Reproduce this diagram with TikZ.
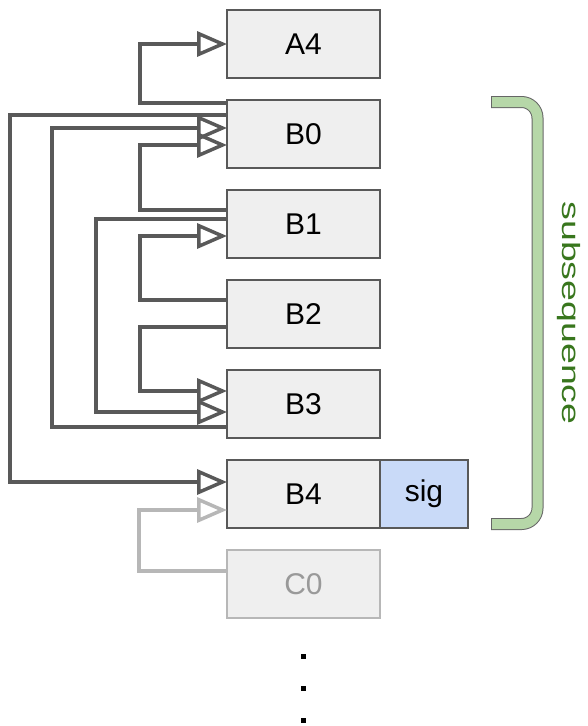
\documentclass[tikz,border=0pt]{standalone}
\usepackage{fontspec}
\setmainfont{Liberation Sans}
\usetikzlibrary{positioning,arrows.meta}
\definecolor{boxfill}{HTML}{EFEFEF}
\definecolor{boxline}{HTML}{595959}
\definecolor{sigfill}{HTML}{C9DAF8}
\definecolor{brfill}{HTML}{B6D7A8}
\definecolor{brline}{HTML}{666666}
\definecolor{brtext}{HTML}{38761D}
\definecolor{faded}{HTML}{B7B7B7}
\definecolor{fadedtext}{HTML}{999999}
\begin{document}
\begin{tikzpicture}[x=1pt,y=-1pt,
  node distance=22pt,
  block/.style={draw=boxline, fill=boxfill, line width=1.5pt, minimum width=153pt,
    minimum height=68pt, inner sep=0pt, outer sep=0pt, font=\fontsize{30}{36}\selectfont},
  link/.style={draw=boxline, line width=3.5pt, -{Triangle[open,length=30pt,width=25pt]}},
  dotmark/.style={fill=black, minimum size=5pt, inner sep=0pt}]
  \useasboundingbox (0,0) rectangle (588,726);
  % bloques
  \node[block] (A4) at (303.5,44) {A4};
  \node[block, below=of A4] (B0) {B0};
  \node[block, below=of B0] (B1) {B1};
  \node[block, below=of B1] (B2) {B2};
  \node[block, below=of B2] (B3) {B3};
  \node[block, below=of B3] (B4) {B4};
  \node[block, right=0pt of B4, minimum width=88pt, fill=sigfill] (sig) {sig};
  \node[block, below=of B4, draw=faded, text=fadedtext] (C0) {C0};
  % enlaces
  \draw[link] ([yshift=-3pt]B0.north west) -- ++(-87,0) |- (A4.west);
  \draw[link] ([yshift=-15pt]B0.north west) -- ++(-217,0) |- ([yshift=-22pt]B4.north west);
  \draw[link] ([yshift=11pt]B3.south west) -- ++(-175,0) |- ([yshift=-28pt]B0.north west);
  \draw[link] ([yshift=-20pt]B1.north west) -- ++(-87,0) |- ([yshift=-45pt]B0.north west);
  \draw[link] ([yshift=-29pt]B1.north west) -- ++(-131,0) |- ([yshift=-42pt]B3.north west);
  \draw[link] ([yshift=-20pt]B2.north west) -- ++(-87,0) |- ([yshift=-46pt]B1.north west);
  \draw[link] ([yshift=-47pt]B2.north west) -- ++(-87,0) |- ([yshift=-21pt]B3.north west);
  \draw[link, draw=faded] ([yshift=-21pt]C0.north west) -- ++(-88,0) |- ([yshift=-50pt]B4.north west);
  % corchete
  \draw[line width=12pt, draw=brline, rounded corners=16pt] (491,102) -- (537.5,102) -- (537.5,524) -- (491,524);
  \draw[line width=10pt, draw=brfill, rounded corners=16pt] (492,102) -- (537.5,102) -- (537.5,524) -- (492,524);
  \node[rotate=-90, xscale=1.5, text=brtext, font=\fontsize{25}{30}\selectfont] (label) at (569,313) {subsequence};
  % puntos
  \node[dotmark] (dot1) at (303,656.5) {};
  \node[dotmark] (dot2) at (303,688.5) {};
  \node[dotmark] (dot3) at (303,720.5) {};
\end{tikzpicture}
\end{document}
